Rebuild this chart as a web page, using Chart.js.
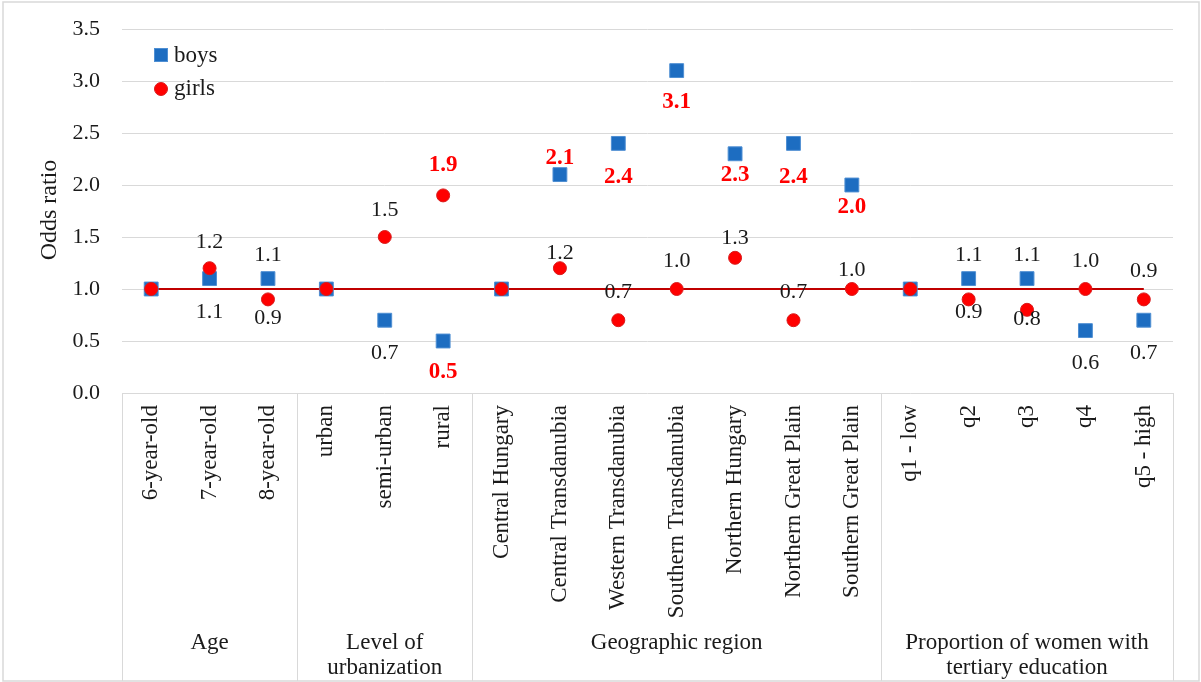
<!DOCTYPE html>
<html>
<head>
<meta charset="utf-8">
<script src="https://cdn.jsdelivr.net/npm/chart.js@4.4.1/dist/chart.umd.min.js"></script>
<style>
  html, body { margin: 0; padding: 0; background: #ffffff; }
  canvas { display: block; }
</style>
</head>
<body>
<canvas id="chart" width="1201" height="682"></canvas>
<script>
// Categories along the x axis
const CATEGORIES = [
  '6-year-old', '7-year-old', '8-year-old',
  'urban', 'semi-urban', 'rural',
  'Central Hungary', 'Central Transdanubia', 'Western Transdanubia',
  'Southern Transdanubia', 'Northern Hungary', 'Northern Great Plain',
  'Southern Great Plain',
  'q1 - low', 'q2', 'q3', 'q4', 'q5 - high'
];

// Odds ratios
const BOYS  = [1.0, 1.1, 1.1, 1.0, 0.7, 0.5, 1.0, 2.1, 2.4, 3.1, 2.3, 2.4, 2.0, 1.0, 1.1, 1.1, 0.6, 0.7];
const GIRLS = [1.0, 1.2, 0.9, 1.0, 1.5, 1.9, 1.0, 1.2, 0.7, 1.0, 1.3, 0.7, 1.0, 1.0, 0.9, 0.8, 1.0, 0.9];

// Reference categories carry no value label
const REFERENCE_CATEGORY = [true, false, false, true, false, false, true, false, false, false, false, false, false, true, false, false, false, false];

// Significant estimates (highlighted labels)
const BOYS_SIGNIFICANT  = [false, false, false, false, false, true, false, true, true, true, true, true, true, false, false, false, false, false];
const GIRLS_SIGNIFICANT = [false, false, false, false, false, true, false, false, false, false, false, false, false, false, false, false, false, false];

// Category groups shown beneath the tick labels
const GROUP_NAMES  = [['Age'], ['Level of', 'urbanization'], ['Geographic region'], ['Proportion of women with', 'tertiary education']];
const GROUP_STARTS = [0, 3, 6, 13];
const GROUP_ENDS   = [2, 5, 12, 17];

const Y_MIN = 0, Y_MAX = 3.5, Y_STEP = 0.5;
const REFERENCE_ODDS = 1.0;

// Vertical offsets of value labels from their marker (px, + = below)
const BOYS_LABEL_DY  = [0, 34, -23, 0, 33, 31, 0, -17, 34, 31, 21, 34, 22, 0, -23, -23, 33, 33];
const GIRLS_LABEL_DY = [0, -26, 19, 0, -27, -30, 0, -15, -28, -28, -20, -28, -19, 0, 13, 9, -28, -28];

const FONT = '"Liberation Serif", "Times New Roman", Times, serif';
const TEXT = '#1a1a1a';
const GRID = '#d9d9d9';
const BLUE = '#1d6dc1';
const BLUE_EDGE = '#4f8fd3';
const RED = '#ff0000';
const RED_EDGE = '#d81c1c';

const decorations = {
  id: 'decorations',
  beforeDatasetsDraw(chart) {
    const { ctx, scales: { x, y } } = chart;
    const py = y.getPixelForValue(REFERENCE_ODDS);
    ctx.save();
    ctx.strokeStyle = '#c00000';
    ctx.lineWidth = 2;
    ctx.beginPath();
    ctx.moveTo(x.getPixelForValue(0), py);
    ctx.lineTo(x.getPixelForValue(CATEGORIES.length - 1), py);
    ctx.stroke();
    ctx.restore();
  },
  afterDatasetsDraw(chart) {
    const { ctx } = chart;
    ctx.save();
    ctx.textAlign = 'center';
    ctx.textBaseline = 'middle';
    const series = [
      { values: BOYS, dy: BOYS_LABEL_DY, sig: BOYS_SIGNIFICANT, meta: chart.getDatasetMeta(1) },
      { values: GIRLS, dy: GIRLS_LABEL_DY, sig: GIRLS_SIGNIFICANT, meta: chart.getDatasetMeta(0) }
    ];
    series.forEach(s => {
      s.values.forEach((v, i) => {
        if (REFERENCE_CATEGORY[i]) return;
        const pt = s.meta.data[i];
        if (s.sig[i]) {
          ctx.font = 'bold 23px ' + FONT;
          ctx.fillStyle = RED;
        } else {
          ctx.font = '22px ' + FONT;
          ctx.fillStyle = TEXT;
        }
        ctx.fillText(v.toFixed(1), pt.x, pt.y + s.dy[i]);
      });
    });
    ctx.restore();
  },
  afterDraw(chart) {
    const { ctx, chartArea: area, scales: { x } } = chart;
    const W = chart.width, H = chart.height;
    const step = (area.right - area.left) / CATEGORIES.length;
    ctx.save();

    // outer frame
    ctx.strokeStyle = GRID;
    ctx.lineWidth = 1.5;
    ctx.strokeRect(3, 2, W - 5, H - 3);

    // group separators in the category axis
    ctx.lineWidth = 1;
    const edges = [area.left];
    GROUP_ENDS.forEach(e => edges.push(x.getPixelForValue(e) + step / 2));
    edges.forEach(ex => {
      const px = Math.round(ex) + 0.5;
      ctx.beginPath();
      ctx.moveTo(px, area.bottom);
      ctx.lineTo(px, H - 1);
      ctx.stroke();
    });

    // group names
    ctx.fillStyle = TEXT;
    ctx.font = '23px ' + FONT;
    ctx.textAlign = 'center';
    ctx.textBaseline = 'middle';
    GROUP_NAMES.forEach((lines, g) => {
      const cx = (x.getPixelForValue(GROUP_STARTS[g]) + x.getPixelForValue(GROUP_ENDS[g])) / 2;
      lines.forEach((line, k) => ctx.fillText(line, cx, 643 + k * 25));
    });

    // y axis title
    ctx.save();
    ctx.font = '24px ' + FONT;
    ctx.translate(50, 210);
    ctx.rotate(-Math.PI / 2);
    ctx.fillText('Odds ratio', 0, 0);
    ctx.restore();

    // legend inside the plot
    ctx.font = '23px ' + FONT;
    ctx.textAlign = 'left';
    ctx.fillStyle = BLUE;
    ctx.strokeStyle = BLUE_EDGE;
    ctx.fillRect(154, 48, 14, 14);
    ctx.strokeRect(154.5, 48.5, 13, 13);
    ctx.beginPath();
    ctx.arc(161, 89, 6.5, 0, Math.PI * 2);
    ctx.fillStyle = RED;
    ctx.fill();
    ctx.strokeStyle = RED_EDGE;
    ctx.stroke();
    ctx.fillStyle = TEXT;
    ctx.fillText('boys', 174, 56);
    ctx.fillText('girls', 174, 89);

    ctx.restore();
  }
};

new Chart(document.getElementById('chart'), {
  type: 'scatter',
  data: {
    labels: CATEGORIES,
    datasets: [
      {
        label: 'girls',
        data: GIRLS,
        order: 0,
        pointStyle: 'circle',
        pointRadius: 6.5,
        pointBackgroundColor: RED,
        pointBorderColor: RED_EDGE,
        pointBorderWidth: 1,
        showLine: false
      },
      {
        label: 'boys',
        data: BOYS,
        order: 1,
        pointStyle: 'rect',
        pointRadius: 9.8,
        pointBackgroundColor: BLUE,
        pointBorderColor: BLUE_EDGE,
        pointBorderWidth: 1,
        showLine: false
      }
    ]
  },
  options: {
    responsive: false,
    animation: false,
    devicePixelRatio: 1,
    layout: { padding: { left: 0, right: 28, top: 29, bottom: 0 } },
    plugins: {
      legend: { display: false },
      tooltip: { enabled: false }
    },
    scales: {
      x: {
        type: 'category',
        offset: true,
        grid: { display: false, drawTicks: false },
        border: { display: false },
        ticks: {
          autoSkip: false,
          minRotation: 90,
          maxRotation: 90,
          padding: 12,
          color: TEXT,
          font: { family: FONT, size: 23 }
        },
        afterFit(scale) { scale.height = 289; }
      },
      y: {
        min: Y_MIN,
        max: Y_MAX,
        grid: { color: GRID, lineWidth: 1, drawTicks: false },
        border: { display: false },
        ticks: {
          stepSize: Y_STEP,
          padding: 22,
          color: TEXT,
          font: { family: FONT, size: 22, lineHeight: 0.5 },
          callback: v => v.toFixed(1)
        },
        afterFit(scale) { scale.width = 122; }
      }
    }
  },
  plugins: [decorations]
});
</script>
</body>
</html>
